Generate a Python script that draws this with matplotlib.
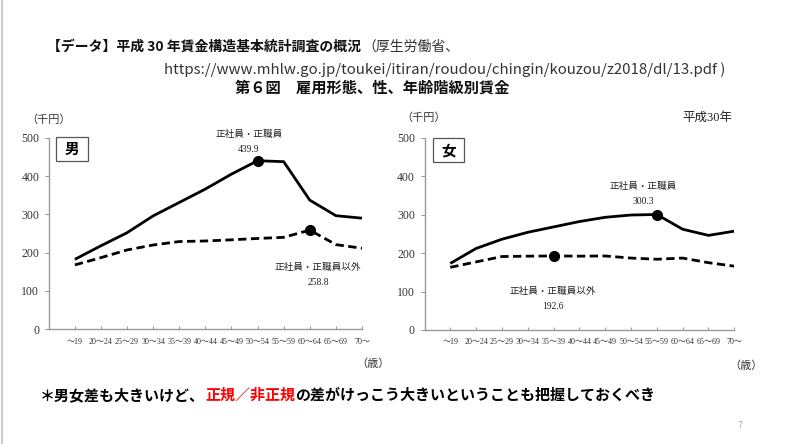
import matplotlib
matplotlib.use('Agg')
import matplotlib.pyplot as plt
from matplotlib.patches import Rectangle

plt.rcParams['font.family'] = ['Noto Sans CJK JP', 'DejaVu Sans']

# age groups
ages = ['～19', '20～24', '25～29', '30～34', '35～39', '40～44',
        '45～49', '50～54', '55～59', '60～64', '65～69', '70～']

# monthly wages (thousand yen), H30
male_regular = [182.5, 218.0, 252.0, 296.0, 331.0, 366.0, 405.0, 439.9, 437.5, 337.0, 296.5, 290.0]
male_nonregular = [168.0, 187.0, 207.0, 220.0, 229.0, 230.5, 233.5, 237.0, 240.0, 258.8, 221.0, 211.5]
female_regular = [173.0, 212.0, 236.0, 254.0, 268.0, 282.0, 293.0, 299.0, 300.3, 262.0, 246.0, 257.0]
female_nonregular = [163.0, 177.0, 191.0, 192.0, 192.6, 192.0, 192.5, 187.0, 184.0, 187.0, 175.0, 166.0]

# which point gets a marker + label
male_peaks = (7, 9)
female_peaks = (8, 4)

serif = ['Liberation Serif', 'Noto Sans CJK JP']
grey = '#9a9a9a'

fig = plt.figure(figsize=(8, 4.44), dpi=100)


def panel(rect, reg, nonreg, peaks, sex, box, reg_lbl_xy, non_lbl_xy):
    ax = fig.add_axes(rect)
    x = range(len(ages))
    ax.plot(x, reg, color='black', lw=2.0, solid_capstyle='butt')
    ax.plot(x, nonreg, color='black', lw=2.0, ls=(0, (3, 1.6)))
    ax.plot(peaks[0], reg[peaks[0]], 'o', color='black', ms=7)
    ax.plot(peaks[1], nonreg[peaks[1]], 'o', color='black', ms=7)

    ax.set_xlim(-0.99, 11.0)
    ax.set_ylim(0, 500)
    ax.set_yticks([0, 100, 200, 300, 400, 500])
    ax.set_xticks(list(x))
    ax.set_xticklabels(ages, family=serif, fontsize=5.8, color='#333333')
    for lbl in ax.get_yticklabels():
        lbl.set_family(serif)
        lbl.set_fontsize(8.5)
        lbl.set_color('#333333')
    ax.tick_params(axis='y', direction='out', length=3, color=grey, pad=4)
    ax.tick_params(axis='x', direction='in', length=2, color=grey, pad=6)
    for s in ('top', 'right'):
        ax.spines[s].set_visible(False)
    for s in ('left', 'bottom'):
        ax.spines[s].set_color(grey)
        ax.spines[s].set_linewidth(1.0)

    bx, by, bw, bh = box
    ax.add_patch(Rectangle((bx, by), bw, bh, transform=ax.transAxes, fc='white',
                           ec='#555555', lw=0.9, clip_on=False, zorder=5))
    ax.text(bx + bw / 2, by + bh / 2, sex, transform=ax.transAxes, fontsize=10.5,
            fontweight='bold', ha='center', va='center', zorder=6)

    ax.annotate('正社員・正職員\n' + format(reg[peaks[0]], '.1f'),
                xy=reg_lbl_xy, xycoords='figure pixels', ha='center', va='center',
                fontsize=6.9, family=serif, color='#222222', linespacing=1.8)
    ax.annotate('正社員・正職員以外\n' + format(nonreg[peaks[1]], '.1f'),
                xy=non_lbl_xy, xycoords='figure pixels', ha='center', va='center',
                fontsize=6.9, family=serif, color='#222222', linespacing=1.8)
    return ax


H = 444
panel([49 / 800, 1 - 329.3 / H, 313 / 800, 191.6 / H],
      male_regular, male_nonregular, male_peaks, '男',
      (0.022, 0.878, 0.103, 0.126),
      (249, H - 142), (318, H - 275))
panel([424.7 / 800, 1 - 330 / H, 309.6 / 800, 192.3 / H],
      female_regular, female_nonregular, female_peaks, '女',
      (0.027, 0.874, 0.100, 0.124),
      (643, H - 194), (553, H - 299))

# small labels around the panels
fig.text(26 / 800, 1 - 120 / H, '（千円）', fontsize=8, ha='left', va='center', color='#333333')
fig.text(401 / 800, 1 - 118 / H, '（千円）', fontsize=8, ha='left', va='center', color='#333333')
fig.text(707 / 800, 1 - 118 / H, '平成30年', fontsize=9, ha='center', va='center',
         family=serif, color='#222222')
fig.text(373 / 800, 1 - 364 / H, '（歳）', fontsize=8, ha='center', va='center', color='#333333')
fig.text(746 / 800, 1 - 366 / H, '（歳）', fontsize=8, ha='center', va='center', color='#333333')

# header
fig.text(47 / 800, 1 - 47 / H, '【データ】平成 30 年賃金構造基本統計調査の概況', fontsize=10,
         fontweight='bold', ha='left', va='center', color='#111111')
fig.text(362 / 800, 1 - 47 / H, '（厚生労働省、', fontsize=10, ha='left', va='center',
         color='#333333')
fig.text(725 / 800, 1 - 70 / H,
         'https://www.mhlw.go.jp/toukei/itiran/roudou/chingin/kouzou/z2018/dl/13.pdf )',
         fontsize=10.8, ha='right', va='center', color='#333333')
fig.text(372 / 800, 1 - 88 / H, '第６図　雇用形態、性、年齢階級別賃金', fontsize=11,
         fontweight='bold', ha='center', va='center', color='#111111')

# footnote with the red part
t1 = fig.text(40 / 800, 1 - 395 / H, '＊男女差も大きいけど、', fontsize=10.8,
              fontweight='bold', ha='left', va='center', color='black')
fig.canvas.draw()
r = fig.canvas.get_renderer()
bb = t1.get_window_extent(r)
t2 = fig.text(bb.x1 / 800, 1 - 395 / H, '正規／非正規', fontsize=10.8,
              fontweight='bold', ha='left', va='center', color='#ff0000')
bb = t2.get_window_extent(r)
fig.text(bb.x1 / 800, 1 - 395 / H, 'の差がけっこう大きいということも把握しておくべき',
         fontsize=10.8, fontweight='bold', ha='left', va='center', color='black')

fig.text(740 / 800, 1 - 425 / H, '7', fontsize=6.5, ha='center', va='center', color='#aaaaaa')

# slide edge
fig.add_artist(plt.Line2D([0.002, 0.002], [0, 1], transform=fig.transFigure,
                          color='#cccccc', lw=1.5))

fig.savefig('out.png', dpi=100)
